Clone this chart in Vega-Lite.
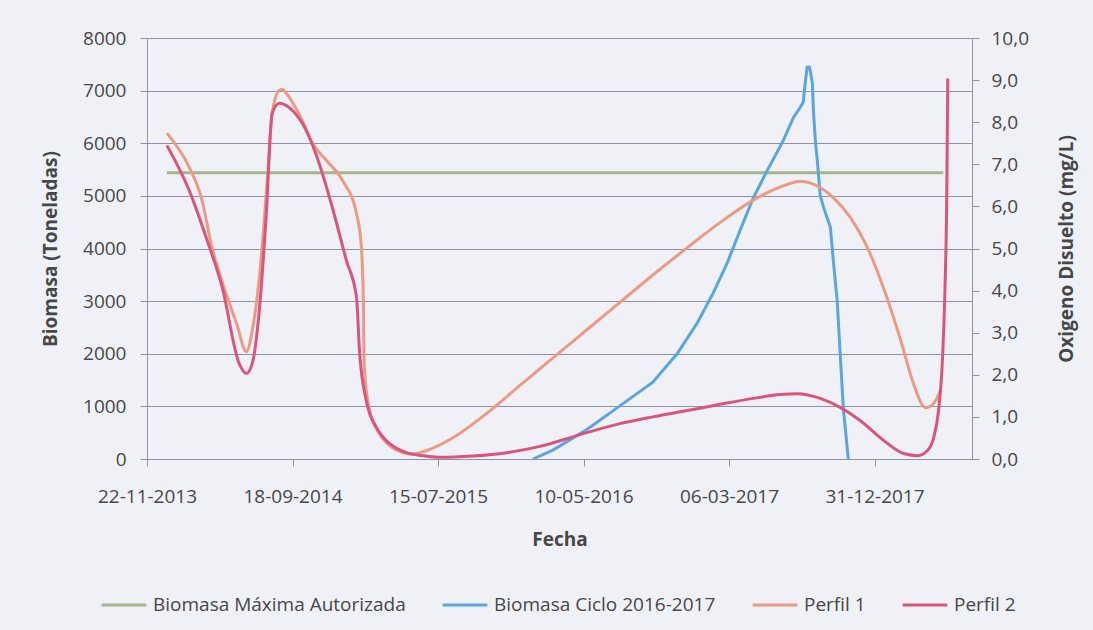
{
  "$schema": "https://vega.github.io/schema/vega-lite/v6.json",
  "width": 825,
  "height": 421,
  "autosize": {"type": "none"},
  "padding": {"left": 147, "top": 38, "right": 121, "bottom": 171},
  "background": "#f0f1f7",
  "config": {
    "view": {"stroke": null},
    "font": "Open Sans",
    "axis": {
      "labelFont": "Open Sans",
      "titleFont": "Open Sans",
      "labelColor": "#474747",
      "titleColor": "#474747",
      "labelFontSize": 19,
      "titleFontSize": 19,
      "titleFontWeight": "bold",
      "domainColor": "#8e92a4",
      "tickColor": "#8e92a4",
      "gridColor": "#8e92a4",
      "gridWidth": 1.2,
      "tickSize": 7
    }
  },
  "data": {
    "values": [
      {"fecha": "2014/01/02", "serie": "Biomasa Máxima Autorizada", "valor": 5440},
      {"fecha": "2018/05/22", "serie": "Biomasa Máxima Autorizada", "valor": 5440},

      {"fecha": "2016/01/27", "serie": "Biomasa Ciclo 2016-2017", "valor": 0},
      {"fecha": "2016/03/08", "serie": "Biomasa Ciclo 2016-2017", "valor": 170},
      {"fecha": "2016/05/17", "serie": "Biomasa Ciclo 2016-2017", "valor": 560},
      {"fecha": "2016/07/24", "serie": "Biomasa Ciclo 2016-2017", "valor": 1010},
      {"fecha": "2016/09/30", "serie": "Biomasa Ciclo 2016-2017", "valor": 1460},
      {"fecha": "2016/11/19", "serie": "Biomasa Ciclo 2016-2017", "valor": 2000},
      {"fecha": "2016/12/30", "serie": "Biomasa Ciclo 2016-2017", "valor": 2576},
      {"fecha": "2017/02/01", "serie": "Biomasa Ciclo 2016-2017", "valor": 3146},
      {"fecha": "2017/03/02", "serie": "Biomasa Ciclo 2016-2017", "valor": 3717},
      {"fecha": "2017/03/29", "serie": "Biomasa Ciclo 2016-2017", "valor": 4350},
      {"fecha": "2017/04/25", "serie": "Biomasa Ciclo 2016-2017", "valor": 4960},
      {"fecha": "2017/05/24", "serie": "Biomasa Ciclo 2016-2017", "valor": 5485},
      {"fecha": "2017/06/26", "serie": "Biomasa Ciclo 2016-2017", "valor": 6055},
      {"fecha": "2017/07/17", "serie": "Biomasa Ciclo 2016-2017", "valor": 6492},
      {"fecha": "2017/07/31", "serie": "Biomasa Ciclo 2016-2017", "valor": 6683},
      {"fecha": "2017/08/06", "serie": "Biomasa Ciclo 2016-2017", "valor": 6778},
      {"fecha": "2017/08/10", "serie": "Biomasa Ciclo 2016-2017", "valor": 7139},
      {"fecha": "2017/08/14", "serie": "Biomasa Ciclo 2016-2017", "valor": 7443},
      {"fecha": "2017/08/19", "serie": "Biomasa Ciclo 2016-2017", "valor": 7443},
      {"fecha": "2017/08/25", "serie": "Biomasa Ciclo 2016-2017", "valor": 7139},
      {"fecha": "2017/08/27", "serie": "Biomasa Ciclo 2016-2017", "valor": 6626},
      {"fecha": "2017/08/31", "serie": "Biomasa Ciclo 2016-2017", "valor": 6055},
      {"fecha": "2017/09/04", "serie": "Biomasa Ciclo 2016-2017", "valor": 5675},
      {"fecha": "2017/09/10", "serie": "Biomasa Ciclo 2016-2017", "valor": 5010},
      {"fecha": "2017/09/17", "serie": "Biomasa Ciclo 2016-2017", "valor": 4781},
      {"fecha": "2017/10/01", "serie": "Biomasa Ciclo 2016-2017", "valor": 4401},
      {"fecha": "2017/10/07", "serie": "Biomasa Ciclo 2016-2017", "valor": 3774},
      {"fecha": "2017/10/15", "serie": "Biomasa Ciclo 2016-2017", "valor": 3013},
      {"fecha": "2017/10/22", "serie": "Biomasa Ciclo 2016-2017", "valor": 1873},
      {"fecha": "2017/10/28", "serie": "Biomasa Ciclo 2016-2017", "valor": 922},
      {"fecha": "2017/11/07", "serie": "Biomasa Ciclo 2016-2017", "valor": 0},

      {"fecha": "2014/01/02", "serie": "Perfil 1", "valor": 7.74},
      {"fecha": "2014/02/17", "serie": "Perfil 1", "valor": 6.93},
      {"fecha": "2014/03/14", "serie": "Perfil 1", "valor": 6.21},
      {"fecha": "2014/04/05", "serie": "Perfil 1", "valor": 5.03},
      {"fecha": "2014/05/04", "serie": "Perfil 1", "valor": 3.93},
      {"fecha": "2014/05/25", "serie": "Perfil 1", "valor": 3.24},
      {"fecha": "2014/06/15", "serie": "Perfil 1", "valor": 2.55},
      {"fecha": "2014/06/27", "serie": "Perfil 1", "valor": 3.05},
      {"fecha": "2014/07/11", "serie": "Perfil 1", "valor": 4.24},
      {"fecha": "2014/07/28", "serie": "Perfil 1", "valor": 6.62},
      {"fecha": "2014/08/07", "serie": "Perfil 1", "valor": 8.21},
      {"fecha": "2014/08/22", "serie": "Perfil 1", "valor": 8.76},
      {"fecha": "2014/08/28", "serie": "Perfil 1", "valor": 8.78},
      {"fecha": "2014/09/05", "serie": "Perfil 1", "valor": 8.69},
      {"fecha": "2014/10/08", "serie": "Perfil 1", "valor": 8.04},
      {"fecha": "2014/10/29", "serie": "Perfil 1", "valor": 7.5},
      {"fecha": "2014/11/27", "serie": "Perfil 1", "valor": 7.09},
      {"fecha": "2014/12/30", "serie": "Perfil 1", "valor": 6.62},
      {"fecha": "2015/01/28", "serie": "Perfil 1", "valor": 5.83},
      {"fecha": "2015/02/07", "serie": "Perfil 1", "valor": 5.03},
      {"fecha": "2015/02/11", "serie": "Perfil 1", "valor": 3.77},
      {"fecha": "2015/02/13", "serie": "Perfil 1", "valor": 2.17},
      {"fecha": "2015/02/24", "serie": "Perfil 1", "valor": 1.15},
      {"fecha": "2015/03/16", "serie": "Perfil 1", "valor": 0.61},
      {"fecha": "2015/04/12", "serie": "Perfil 1", "valor": 0.27},
      {"fecha": "2015/05/23", "serie": "Perfil 1", "valor": 0.12},
      {"fecha": "2015/06/07", "serie": "Perfil 1", "valor": 0.15},
      {"fecha": "2015/08/14", "serie": "Perfil 1", "valor": 0.5},
      {"fecha": "2015/10/23", "serie": "Perfil 1", "valor": 1.08},
      {"fecha": "2015/12/31", "serie": "Perfil 1", "valor": 1.75},
      {"fecha": "2016/03/08", "serie": "Perfil 1", "valor": 2.4},
      {"fecha": "2016/05/17", "serie": "Perfil 1", "valor": 3.07},
      {"fecha": "2016/07/24", "serie": "Perfil 1", "valor": 3.72},
      {"fecha": "2016/09/30", "serie": "Perfil 1", "valor": 4.37},
      {"fecha": "2016/12/10", "serie": "Perfil 1", "valor": 5.02},
      {"fecha": "2017/02/16", "serie": "Perfil 1", "valor": 5.62},
      {"fecha": "2017/04/25", "serie": "Perfil 1", "valor": 6.15},
      {"fecha": "2017/07/04", "serie": "Perfil 1", "valor": 6.52},
      {"fecha": "2017/07/31", "serie": "Perfil 1", "valor": 6.6},
      {"fecha": "2017/09/10", "serie": "Perfil 1", "valor": 6.45},
      {"fecha": "2017/10/07", "serie": "Perfil 1", "valor": 6.21},
      {"fecha": "2017/11/11", "serie": "Perfil 1", "valor": 5.74},
      {"fecha": "2017/12/16", "serie": "Perfil 1", "valor": 5.03},
      {"fecha": "2018/01/18", "serie": "Perfil 1", "valor": 4.08},
      {"fecha": "2018/02/23", "serie": "Perfil 1", "valor": 2.82},
      {"fecha": "2018/03/21", "serie": "Perfil 1", "valor": 1.8},
      {"fecha": "2018/04/15", "serie": "Perfil 1", "valor": 1.22},
      {"fecha": "2018/05/02", "serie": "Perfil 1", "valor": 1.32},
      {"fecha": "2018/05/16", "serie": "Perfil 1", "valor": 1.63},

      {"fecha": "2014/01/02", "serie": "Perfil 2", "valor": 7.45},
      {"fecha": "2014/02/17", "serie": "Perfil 2", "valor": 6.38},
      {"fecha": "2014/03/24", "serie": "Perfil 2", "valor": 5.26},
      {"fecha": "2014/04/26", "serie": "Perfil 2", "valor": 4.08},
      {"fecha": "2014/05/31", "serie": "Perfil 2", "valor": 2.27},
      {"fecha": "2014/06/15", "serie": "Perfil 2", "valor": 2.03},
      {"fecha": "2014/06/27", "serie": "Perfil 2", "valor": 2.27},
      {"fecha": "2014/07/11", "serie": "Perfil 2", "valor": 3.46},
      {"fecha": "2014/07/26", "serie": "Perfil 2", "valor": 5.83},
      {"fecha": "2014/08/07", "serie": "Perfil 2", "valor": 8.21},
      {"fecha": "2014/08/22", "serie": "Perfil 2", "valor": 8.45},
      {"fecha": "2014/09/11", "serie": "Perfil 2", "valor": 8.35},
      {"fecha": "2014/10/16", "serie": "Perfil 2", "valor": 7.81},
      {"fecha": "2014/11/12", "serie": "Perfil 2", "valor": 7.02},
      {"fecha": "2014/12/09", "serie": "Perfil 2", "valor": 5.98},
      {"fecha": "2015/01/07", "serie": "Perfil 2", "valor": 4.72},
      {"fecha": "2015/01/28", "serie": "Perfil 2", "valor": 3.84},
      {"fecha": "2015/02/03", "serie": "Perfil 2", "valor": 2.58},
      {"fecha": "2015/02/17", "serie": "Perfil 2", "valor": 1.39},
      {"fecha": "2015/03/10", "serie": "Perfil 2", "valor": 0.75},
      {"fecha": "2015/04/06", "serie": "Perfil 2", "valor": 0.37},
      {"fecha": "2015/05/11", "serie": "Perfil 2", "valor": 0.15},
      {"fecha": "2015/06/13", "serie": "Perfil 2", "valor": 0.08},
      {"fecha": "2015/07/18", "serie": "Perfil 2", "valor": 0.04},
      {"fecha": "2015/09/24", "serie": "Perfil 2", "valor": 0.07},
      {"fecha": "2015/12/04", "serie": "Perfil 2", "valor": 0.15},
      {"fecha": "2016/02/10", "serie": "Perfil 2", "valor": 0.3},
      {"fecha": "2016/05/03", "serie": "Perfil 2", "valor": 0.58},
      {"fecha": "2016/07/24", "serie": "Perfil 2", "valor": 0.84},
      {"fecha": "2016/09/30", "serie": "Perfil 2", "valor": 1.0},
      {"fecha": "2016/12/10", "serie": "Perfil 2", "valor": 1.15},
      {"fecha": "2017/02/16", "serie": "Perfil 2", "valor": 1.3},
      {"fecha": "2017/04/25", "serie": "Perfil 2", "valor": 1.44},
      {"fecha": "2017/06/20", "serie": "Perfil 2", "valor": 1.53},
      {"fecha": "2017/07/25", "serie": "Perfil 2", "valor": 1.55},
      {"fecha": "2017/09/10", "serie": "Perfil 2", "valor": 1.44},
      {"fecha": "2017/10/22", "serie": "Perfil 2", "valor": 1.22},
      {"fecha": "2017/12/02", "serie": "Perfil 2", "valor": 0.91},
      {"fecha": "2018/01/19", "serie": "Perfil 2", "valor": 0.44},
      {"fecha": "2018/03/01", "serie": "Perfil 2", "valor": 0.13},
      {"fecha": "2018/03/30", "serie": "Perfil 2", "valor": 0.08},
      {"fecha": "2018/04/19", "serie": "Perfil 2", "valor": 0.2},
      {"fecha": "2018/05/02", "serie": "Perfil 2", "valor": 0.51},
      {"fecha": "2018/05/12", "serie": "Perfil 2", "valor": 1.15},
      {"fecha": "2018/05/20", "serie": "Perfil 2", "valor": 2.34},
      {"fecha": "2018/05/25", "serie": "Perfil 2", "valor": 3.93},
      {"fecha": "2018/05/29", "serie": "Perfil 2", "valor": 6.31},
      {"fecha": "2018/05/31", "serie": "Perfil 2", "valor": 9.04}
    ]
  },
  "encoding": {
    "x": {
      "field": "fecha",
      "type": "temporal",
      "scale": {
        "domain": [{"year": 2013, "month": 11, "date": 22}, {"year": 2018, "month": 7, "date": 20}],
        "nice": false
      },
      "axis": {
        "title": "Fecha",
        "format": "%d-%m-%Y",
        "values": [
          {"year": 2013, "month": 11, "date": 22},
          {"year": 2014, "month": 9, "date": 18},
          {"year": 2015, "month": 7, "date": 15},
          {"year": 2016, "month": 5, "date": 10},
          {"year": 2017, "month": 3, "date": 6},
          {"year": 2017, "month": 12, "date": 31}
        ],
        "grid": false,
        "labelPadding": 21,
        "titlePadding": 24,
        "labelFlush": false,
        "labelOverlap": false
      }
    },
    "color": {
      "field": "serie",
      "type": "nominal",
      "scale": {
        "domain": ["Biomasa Máxima Autorizada", "Biomasa Ciclo 2016-2017", "Perfil 1", "Perfil 2"],
        "range": ["#a5b68a", "#5aa6dd", "#eb9a84", "#da557d"]
      },
      "legend": {
        "title": null,
        "orient": "none",
        "legendX": -47,
        "legendY": 543,
        "direction": "horizontal",
        "symbolType": "stroke",
        "symbolStrokeWidth": 3,
        "symbolSize": 2000,
        "labelFont": "Open Sans",
        "labelFontSize": 19,
        "labelColor": "#474747",
        "labelOffset": 5,
        "columnPadding": 30,
        "labelLimit": 400
      }
    }
  },
  "layer": [
    {
      "transform": [{"filter": {"field": "serie", "oneOf": ["Biomasa Máxima Autorizada", "Biomasa Ciclo 2016-2017"]}}],
      "mark": {"type": "line", "strokeWidth": 3},
      "encoding": {
        "y": {
          "field": "valor",
          "type": "quantitative",
          "scale": {"domain": [0, 8000], "nice": false},
          "axis": {
            "orient": "left",
            "title": "Biomasa (Toneladas)",
            "values": [0, 1000, 2000, 3000, 4000, 5000, 6000, 7000, 8000],
            "format": "d",
            "grid": true,
            "labelPadding": 14,
            "titlePadding": 22
          }
        }
      }
    },
    {
      "transform": [{"filter": {"field": "serie", "oneOf": ["Perfil 1", "Perfil 2"]}}],
      "mark": {"type": "line", "strokeWidth": 3, "interpolate": "monotone"},
      "encoding": {
        "y": {
          "field": "valor",
          "type": "quantitative",
          "scale": {"domain": [0, 10], "nice": false},
          "axis": {
            "orient": "right",
            "title": "Oxigeno Disuelto (mg/L)",
            "values": [0, 1, 2, 3, 4, 5, 6, 7, 8, 9, 10],
            "labelExpr": "replace(format(datum.value, '.1f'), '.', ',')",
            "grid": false,
            "labelPadding": 12,
            "titlePadding": 48,
            "titleAngle": 270
          }
        }
      }
    }
  ],
  "resolve": {"scale": {"y": "independent"}}
}
